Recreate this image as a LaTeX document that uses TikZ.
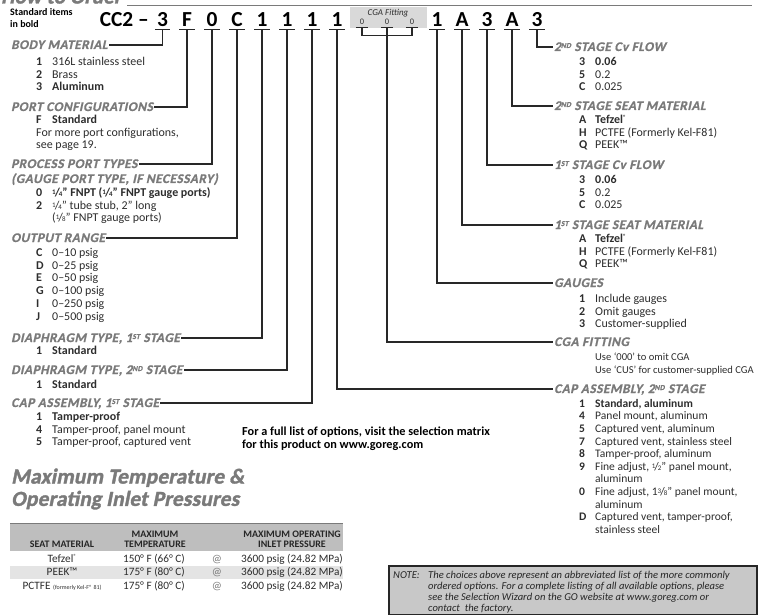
\documentclass[tikz,border=0pt]{standalone}
\usepackage{fontspec}
\setmainfont{Carlito}
\newfontfamily\slbold{Carlito}[BoldFeatures={FakeSlant=0.22, FakeBold=0.8, LetterSpace=4}]
\newfontfamily\slblack{Carlito}[BoldFeatures={FakeSlant=0.2, FakeBold=1.6, LetterSpace=1}]
\usetikzlibrary{positioning}

\definecolor{headgray}{RGB}{122,122,122}
\definecolor{txtgray}{RGB}{45,45,45}
\definecolor{linegray}{RGB}{40,40,40}
\definecolor{boxgray}{RGB}{217,217,217}
\definecolor{notegray}{RGB}{200,200,200}
\definecolor{tabhead}{RGB}{190,190,190}
\definecolor{tabband}{RGB}{228,228,228}

\newcommand{\frc}[2]{\raisebox{0.35ex}{\fontsize{7}{7}\selectfont #1}\kern-0.08em/\kern-0.08em{\fontsize{7}{7}\selectfont #2}}
\newcommand{\opt}[2]{\makebox[16bp][l]{\textbf{#1}}#2}
\newcommand{\optb}[2]{\makebox[16bp][l]{\textbf{#1}}\textbf{#2}}
\newcommand{\cont}[1]{\hspace*{16bp}#1}
\newcommand{\sups}[1]{\raisebox{3bp}{\fontsize{7.5}{7.5}\selectfont #1}}
\newcommand{\regmark}{\raisebox{3.5bp}{\fontsize{6}{6}\selectfont ®}}

\tikzset{
  codechar/.style={font=\fontsize{21.5}{21.5}\selectfont\bfseries, text=black, anchor=base, inner xsep=0pt, inner ysep=2.5bp, text depth=0pt, minimum width=15bp},
  cgachar/.style={font=\fontsize{8.5}{8.5}\selectfont, text=txtgray, anchor=base, inner xsep=0pt, inner ysep=2.5bp, text depth=0pt, minimum width=12bp},
  uline/.style={linegray, line width=1.5bp},
  lead/.style={linegray, line width=1.4bp},
  grouphead/.style={font=\fontsize{13.3}{13}\selectfont\slbold\bfseries, text=headgray, inner xsep=1bp, inner ysep=0pt, text height=8bp, text depth=0pt, anchor=base west},
  optlist/.style={font=\fontsize{12}{12.9}\selectfont, text=txtgray, align=left, inner sep=0pt, anchor=north west}
}

\begin{document}
\begin{tikzpicture}[x=1bp, y=1bp,
    bigtitle/.style={font=\fontsize{21.5}{21}\selectfont\slblack\bfseries, text=headgray, align=left, inner sep=0pt},
    tabhd/.style={font=\fontsize{10}{10.5}\selectfont\bfseries, text=black!85, inner sep=0pt},
    tabcell/.style={font=\fontsize{11.3}{12}\selectfont, text=txtgray, anchor=base, inner sep=0pt},
    notetext/.style={font=\fontsize{10.6}{10.8}\selectfont\itshape, text=black!85, align=left, inner sep=0pt, anchor=north west}
  ]
  \useasboundingbox (0,0) rectangle (759,-616);

  % Title, cut at the top
  \begin{scope}
    \clip (0,0) rectangle (759,-616);
    \node[font=\fontsize{21}{21}\selectfont\slblack\bfseries, text=headgray, anchor=base west, inner sep=0pt] (title) at (1,-3.5) {How to Order};
  \end{scope}
  \draw[headgray, line width=0.8bp] (127,-5) -- (752,-5);

  \node[font=\fontsize{10}{12}\selectfont\bfseries, align=left, inner sep=0pt, anchor=north west] (stditems) at (10,-6.6) {\strut Standard items\\in bold};

  % Ordering code
  \node[codechar, anchor=base east, minimum width=0pt, inner ysep=0pt] (kpre) at (149,-27) {CC2 –};
  \foreach \nm/\ch/\xx in {kBody/3/162.5, kPort/F/187, kProc/0/212, kOut/C/237,
      kDiaA/1/262, kDiaB/1/287, kCapA/1/312, kCapB/1/337,
      kGauge/1/437, kSeatA/A/462, kCvA/3/487, kSeatB/A/512, kCvB/3/537} {
    \node[codechar] (\nm) at (\xx,-27) {\ch};
    \draw[uline] (\nm.south west) -- (\nm.south east);
  }

  % CGA fitting box
  \fill[boxgray] (350,-7.5) rectangle (427,-28);
  \node[font=\fontsize{9}{9}\selectfont\itshape, text=txtgray, anchor=base, inner sep=0pt] (cgalbl) at (388,-16) {CGA Fitting};
  \foreach \nm/\xx in {zA/362, zB/387, zC/412} {
    \node[cgachar] (\nm) at (\xx,-25) {0};
    \draw[uline] (\nm.south west) -- (\nm.south east);
  }

  % Left column
  \node[grouphead] (hBody) at (10,-49) {BODY MATERIAL};
  \node[optlist] (lBody) at (36,-56) {\strut\opt{1}{316L stainless steel}\\\opt{2}{Brass}\\\optb{3}{Aluminum}};

  \node[grouphead] (hPort) at (10,-111) {PORT CONFIGURATIONS};
  \node[optlist] (lPort) at (36,-114) {\strut\optb{F}{Standard}\\For more port configurations,\\see page 19.};

  \node[grouphead] (hProc) at (10,-168) {PROCESS PORT TYPES};
  \node[grouphead] (hProcB) at (10,-183) {(GAUGE PORT TYPE, IF NECESSARY)};
  \node[optlist] (lProc) at (36,-187) {\strut\optb{0}{\frc14” FNPT (\frc14” FNPT gauge ports)}\\\opt{2}{\frc14” tube stub, 2” long}\\\cont{(\frc18” FNPT gauge ports)}};

  \node[grouphead] (hOut) at (10,-242) {OUTPUT RANGE};
  \node[optlist] (lOut) at (36,-247) {\strut\opt{C}{0–10 psig}\\\opt{D}{0–25 psig}\\\opt{E}{0–50 psig}\\\opt{G}{0–100 psig}\\\opt{I}{0–250 psig}\\\opt{J}{0–500 psig}};

  \node[grouphead] (hDiaA) at (10,-342) {DIAPHRAGM TYPE, 1\sups{ST} STAGE};
  \node[optlist] (lDiaA) at (36,-345) {\strut\optb{1}{Standard}};

  \node[grouphead] (hDiaB) at (10,-374) {DIAPHRAGM TYPE, 2\sups{ND} STAGE};
  \node[optlist] (lDiaB) at (36,-379) {\strut\optb{1}{Standard}};

  \node[grouphead] (hCapA) at (10,-407) {CAP ASSEMBLY, 1\sups{ST} STAGE};
  \node[optlist] (lCapA) at (36,-411) {\strut\optb{1}{Tamper-proof}\\\opt{4}{Tamper-proof, panel mount}\\\opt{5}{Tamper-proof, captured vent}};

  % Right column
  \node[grouphead] (hCvB) at (553,-51) {2\sups{ND} STAGE Cv FLOW};
  \node[optlist] (lCvB) at (579,-56) {\strut\optb{3}{0.06}\\\opt{5}{0.2}\\\opt{C}{0.025}};

  \node[grouphead] (hSeatB) at (553,-110) {2\sups{ND} STAGE SEAT MATERIAL};
  \node[optlist] (lSeatB) at (579,-114) {\strut\optb{A}{Tefzel\regmark}\\\opt{H}{PCTFE (Formerly Kel-F81)}\\\opt{Q}{PEEK™}};

  \node[grouphead] (hCvA) at (553,-169) {1\sups{ST} STAGE Cv FLOW};
  \node[optlist] (lCvA) at (579,-174) {\strut\optb{3}{0.06}\\\opt{5}{0.2}\\\opt{C}{0.025}};

  \node[grouphead] (hSeatA) at (553,-229) {1\sups{ST} STAGE SEAT MATERIAL};
  \node[optlist] (lSeatA) at (579,-233) {\strut\optb{A}{Tefzel\regmark}\\\opt{H}{PCTFE (Formerly Kel-F81)}\\\opt{Q}{PEEK™}};

  \node[grouphead] (hGauge) at (553,-287) {GAUGES};
  \node[optlist] (lGauge) at (579,-293) {\strut\opt{1}{Include gauges}\\\opt{2}{Omit gauges}\\\opt{3}{Customer-supplied}};

  \node[grouphead] (hCGA) at (553,-346) {CGA FITTING};
  \node[optlist, font=\fontsize{10.6}{12.9}\selectfont] (lCGA) at (595,-351) {\strut Use `000' to omit CGA\\Use `CUS' for customer-supplied CGA};

  \node[grouphead] (hCapB) at (553,-393) {CAP ASSEMBLY, 2\sups{ND} STAGE};
  \node[optlist, font=\fontsize{11.6}{12.7}\selectfont] (lCapB) at (579,-398) {\strut\optb{1}{Standard, aluminum}\\\opt{4}{Panel mount, aluminum}\\\opt{5}{Captured vent, aluminum}\\\opt{7}{Captured vent, stainless steel}\\\opt{8}{Tamper-proof, aluminum}\\\opt{9}{Fine adjust, \frc12” panel mount,}\\\cont{aluminum}\\\opt{0}{Fine adjust, 1\frc38” panel mount,}\\\cont{aluminum}\\\opt{D}{Captured vent, tamper-proof,}\\\cont{stainless steel}};

  % Leaders
  \draw[lead] (kBody.south) |- (hBody.east);
  \draw[lead] (kPort.south) |- (hPort.east);
  \draw[lead] (kProc.south) |- (hProc.east);
  \draw[lead] (kOut.south) |- (hOut.east);
  \draw[lead] (kDiaA.south) |- (hDiaA.east);
  \draw[lead] (kDiaB.south) |- (hDiaB.east);
  \draw[lead] (kCapA.south) |- (hCapA.east);
  \draw[lead] (kCapB.south) |- (hCapB.west);
  \draw[lead] (zA.south) -- ++(0,-8) -| (zC.south);
  \draw[lead] (zB.south) |- (hCGA.west);
  \draw[lead] (kGauge.south) |- (hGauge.west);
  \draw[lead] (kSeatA.south) |- (hSeatA.west);
  \draw[lead] (kCvA.south) |- (hCvA.west);
  \draw[lead] (kSeatB.south) |- (hSeatB.west);
  \draw[lead] (kCvB.south) |- (hCvB.west);

  \node[font=\fontsize{12.3}{13}\selectfont\bfseries, text=black, align=left, inner sep=0pt, anchor=north west] (fulllist) at (242,-426) {\strut For a full list of options, visit the selection matrix\\for this product on www.goreg.com};

  % Temperature / pressure table
  \node[bigtitle, anchor=north west] (mtitle) at (11,-468.3) {\strut Maximum Temperature \&\\Operating Inlet Pressures};
  \fill[tabhead] (10,-523.5) rectangle (343,-551);
  \draw[headgray, line width=1bp] (10,-523.5) -- (343,-523.5);
  \fill[tabband] (10,-565.5) rectangle (343,-578.5);
  \node[tabhd, anchor=base] (thMat) at (62,-547) {SEAT MATERIAL};
  \node[tabhd, align=center, anchor=north] (thTmp) at (155,-529.6) {\strut MAXIMUM\\TEMPERATURE};
  \node[tabhd, align=center, anchor=north] (thPrs) at (292,-529.6) {\strut MAXIMUM OPERATING\\INLET PRESSURE};
  \foreach \r/\mat/\tmp/\yy in {1/{Tefzel\regmark}/150° F (66° C)/562,
      2/{PEEK™}/175° F (80° C)/575,
      3/{PCTFE {\fontsize{6}{6}\selectfont(formerly Kel-F® 81)}}/175° F (80° C)/589} {
    \node[tabcell] (mat\r) at (62,-\yy) {\mat};
    \node[tabcell] (tmp\r) at (154,-\yy) {\tmp};
    \node[tabcell, text=headgray] (at\r) at (217,-\yy) {@};
    \node[tabcell] (prs\r) at (292,-\yy) {3600 psig (24.82 MPa)};
  }

  % Note
  \draw[fill=notegray, draw=black!85, line width=1.6bp] (389,-566) rectangle (757,-614.5);
  \node[notetext] (note) at (393,-571) {\strut\makebox[35bp][l]{NOTE:}The choices above represent an abbreviated list of the more commonly\\\hspace*{35bp}ordered options. For a complete listing of all available options, please\\\hspace*{35bp}see the Selection Wizard on the GO website at www.goreg.com or\\\hspace*{35bp}contact\ \ the factory.};
\end{tikzpicture}
\end{document}
